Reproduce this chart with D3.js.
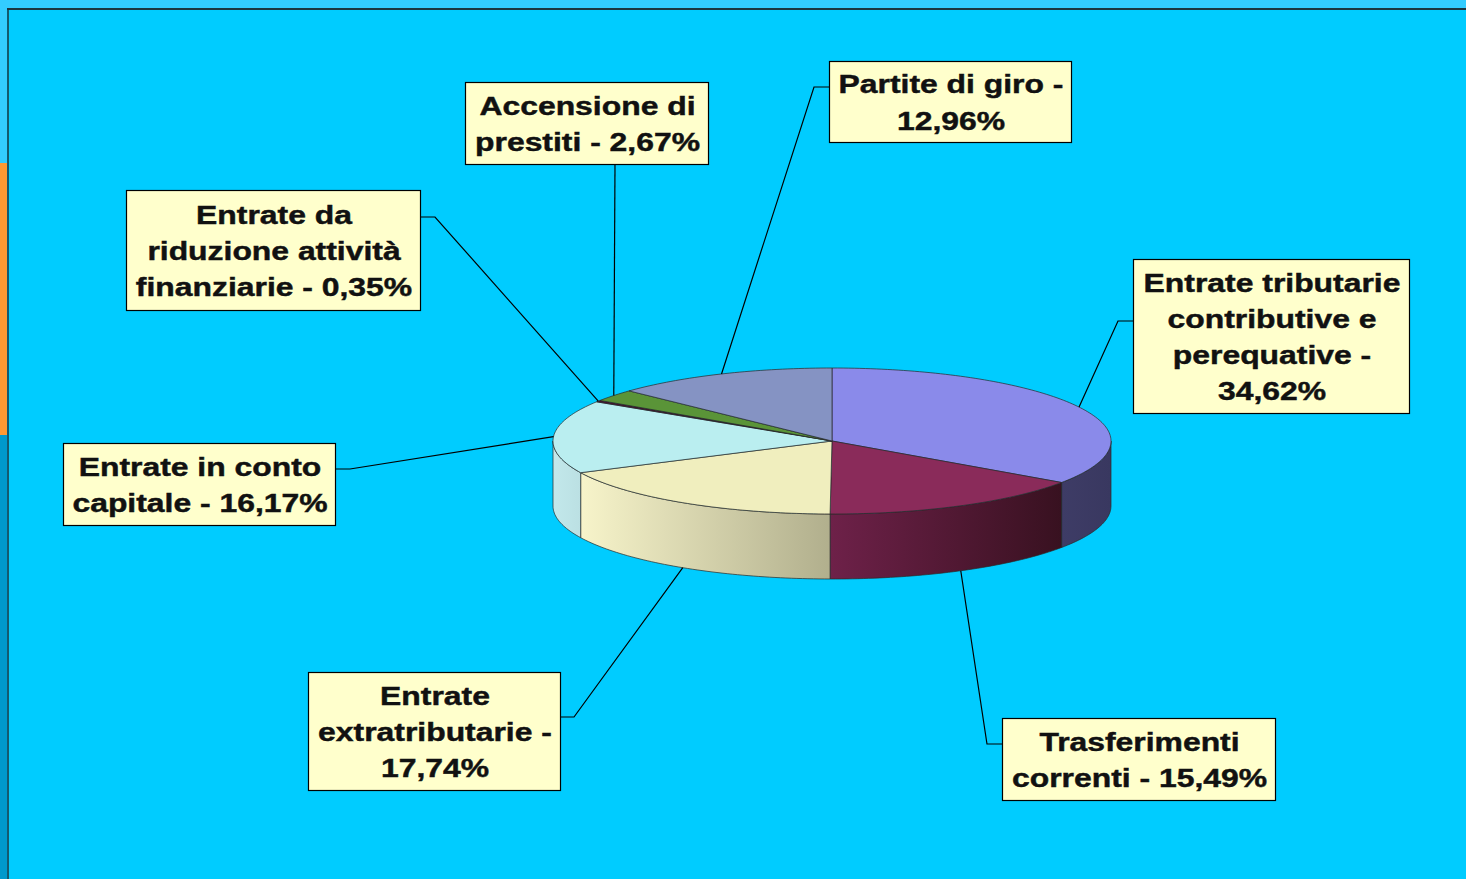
<!DOCTYPE html>
<html>
<head>
<meta charset="utf-8">
<script src="https://cdn.jsdelivr.net/npm/d3@7"></script>
<style>
  body { margin: 0; background: #00CCFF; }
  svg { display: block; }
</style>
</head>
<body>
<script>
// data
var categories = ["Entrate tributarie contributive e perequative", "Trasferimenti correnti",
                  "Entrate extratributarie", "Entrate in conto capitale",
                  "Entrate da riduzione attività finanziarie", "Accensione di prestiti",
                  "Partite di giro"];
var values = [34.62, 15.49, 17.74, 16.17, 0.35, 2.67, 12.96];
var labelLines = [
    ["Entrate tributarie", "contributive e", "perequative -", "34,62%"],
    ["Trasferimenti", "correnti - 15,49%"],
    ["Entrate", "extratributarie -", "17,74%"],
    ["Entrate in conto", "capitale - 16,17%"],
    ["Entrate da", "riduzione attività", "finanziarie - 0,35%"],
    ["Accensione di", "prestiti - 2,67%"],
    ["Partite di giro -", "12,96%"]
];

// styles
var topColors  = ["#8A8AEA", "#8A2B5A", "#F0EEBE", "#BAEEF0", "#4A1030", "#5A9438", "#8593C3"];
var sideColors = [["#3E3C66", "#393860"], ["#6E2149", "#381120"], ["#F7F4CA", "#B1AF8D"],
                  ["#C2E8EB", "#BBE0E3"], ["#4A1030", "#4A1030"], ["#4A7A2E", "#4A7A2E"], ["#5F6A90", "#5F6A90"]];

// label boxes: x, y, w, h, elbow point
var boxes = [
    {x: 1133, y: 259, w: 276, h: 154, ex: 1118, ey: 321},
    {x: 1002, y: 718, w: 273, h: 82, ex: 987, ey: 744},
    {x: 308, y: 672, w: 252, h: 118, ex: 574, ey: 717},
    {x: 63, y: 443, w: 272, h: 82, ex: 350, ey: 469},
    {x: 126, y: 190, w: 294, h: 120, ex: 435, ey: 217},
    {x: 465, y: 82, w: 243, h: 82, ex: 615, ey: 164},
    {x: 829, y: 61, w: 242, h: 81, ex: 814, ey: 87}
];

var W = 1466, H = 879;
var cx = 832, cy = 441, rx = 279, ry = 73, depth = 65;

var svg = d3.select("body").append("svg")
    .attr("width", W)
    .attr("height", H);

// background + frame
svg.append("rect").attr("width", W).attr("height", H).attr("fill", "#00CCFF");
svg.append("rect").attr("x", 0).attr("y", 0).attr("width", W).attr("height", 8).attr("fill", "#33CCFF");
svg.append("rect").attr("x", 0).attr("y", 0).attr("width", 7).attr("height", 163).attr("fill", "#33CCFF");
svg.append("rect").attr("x", 0).attr("y", 163).attr("width", 7).attr("height", 272).attr("fill", "#FF9933");
svg.append("rect").attr("x", 0).attr("y", 435).attr("width", 7).attr("height", H - 435).attr("fill", "#0099CC");
svg.append("line").attr("x1", 7).attr("y1", 9).attr("x2", W).attr("y2", 9)
    .attr("stroke", "#1B3540").attr("stroke-width", 2);
svg.append("line").attr("x1", 8).attr("y1", 8).attr("x2", 8).attr("y2", H)
    .attr("stroke", "#1B3540").attr("stroke-width", 1.5);

var pie = d3.pie().sort(null).startAngle(0).endAngle(2 * Math.PI);
var arcs = pie(values);

function pt(a, dy) {
    return [cx + rx * Math.sin(a), cy - ry * Math.cos(a) + (dy || 0)];
}
function arcPts(a0, a1, dy) {
    var n = Math.max(2, Math.ceil(Math.abs(a1 - a0) / 0.02));
    return d3.range(n + 1).map(function(i) { return pt(a0 + (a1 - a0) * i / n, dy); });
}
var line = d3.line();

var defs = svg.append("defs");
sideColors.forEach(function(c, i) {
    var g = defs.append("linearGradient").attr("id", "side" + i)
        .attr("x1", 0).attr("x2", 1).attr("y1", 0).attr("y2", 0);
    g.append("stop").attr("offset", "0%").attr("stop-color", c[0]);
    g.append("stop").attr("offset", "100%").attr("stop-color", c[1]);
});

// side faces (front half only)
var sides = arcs.map(function(d, i) {
    var b0 = Math.max(d.startAngle, Math.PI / 2), b1 = Math.min(d.endAngle, 3 * Math.PI / 2);
    return {i: i, b0: b0, b1: b1};
}).filter(function(s) { return s.b1 > s.b0; });

svg.selectAll("path.side")
    .data(sides)
    .enter()
    .append("path")
    .attr("class", "side")
    .attr("d", function(s) {
        var p = arcPts(s.b0, s.b1, 0).concat(arcPts(s.b1, s.b0, depth));
        return line(p) + "Z";
    })
    .attr("fill", function(s) { return "url(#side" + s.i + ")"; })
    .attr("stroke", "#2A2A2A")
    .attr("stroke-opacity", 0.7)
    .attr("stroke-width", 1);

// top faces
svg.selectAll("path.top")
    .data(arcs)
    .enter()
    .append("path")
    .attr("class", "top")
    .attr("d", function(d) {
        var p = [[cx, cy]].concat(arcPts(d.startAngle, d.endAngle, 0));
        return line(p) + "Z";
    })
    .attr("fill", function(d, i) { return topColors[i]; })
    .attr("stroke", "#2A2A2A")
    .attr("stroke-opacity", 0.7)
    .attr("stroke-width", 1);

// leader lines
svg.selectAll("path.leader")
    .data(arcs)
    .enter()
    .append("path")
    .attr("class", "leader")
    .attr("d", function(d, i) {
        var m = (d.startAngle + d.endAngle) / 2;
        var a = pt(m, Math.cos(m) < 0 ? depth : 0);
        var b = boxes[i];
        var end;
        if (b.ey === b.y + b.h) end = [b.ex, b.ey];
        else end = [b.ex < b.x ? b.x : b.x + b.w, b.ey];
        return line([a, [b.ex, b.ey], end]);
    })
    .attr("fill", "none")
    .attr("stroke", "#000")
    .attr("stroke-width", 1.2);

// label boxes
var lab = svg.selectAll("g.label")
    .data(arcs)
    .enter()
    .append("g")
    .attr("class", "label");

lab.append("rect")
    .attr("x", function(d, i) { return boxes[i].x + 0.5; })
    .attr("y", function(d, i) { return boxes[i].y + 0.5; })
    .attr("width", function(d, i) { return boxes[i].w; })
    .attr("height", function(d, i) { return boxes[i].h; })
    .attr("fill", "#FFFFCC")
    .attr("stroke", "#000")
    .attr("stroke-width", 1.2);

var lh = 36.3;
lab.each(function(d, i) {
    var b = boxes[i], lines = labelLines[i];
    var mid = b.y + b.h / 2;
    var first = mid - (lines.length - 1) * lh / 2;
    d3.select(this).selectAll("text")
        .data(lines)
        .enter()
        .append("text")
        .attr("transform", function(t, j) {
            return "translate(" + (b.x + b.w / 2 + 1) + "," + (first + j * lh + 10) + ") scale(1.25,1)";
        })
        .attr("text-anchor", "middle")
        .attr("font-family", "'Liberation Sans', Arial, sans-serif")
        .attr("font-weight", "bold")
        .attr("font-size", "25.5px")
        .attr("fill", "#111")
        .attr("stroke", "#111")
        .attr("stroke-width", 0.45)
        .text(function(t) { return t; });
});
</script>
</body>
</html>
